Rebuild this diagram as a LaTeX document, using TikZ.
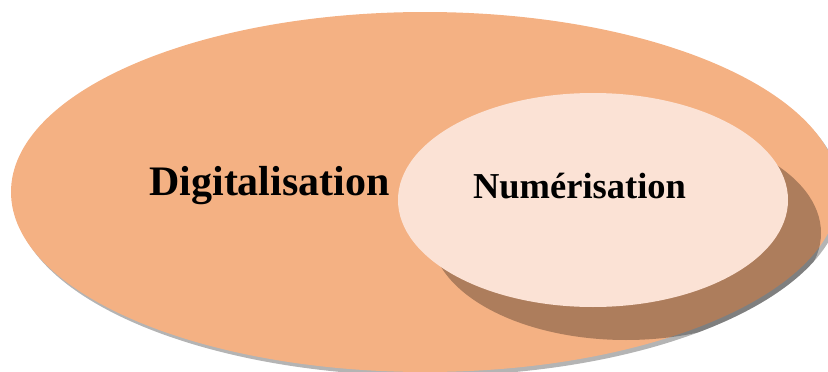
\documentclass[tikz,border=0pt]{standalone}
\usepackage{fontspec}
\setmainfont{Liberation Serif}
\definecolor{outerfill}{HTML}{F4B183}
\definecolor{innerfill}{HTML}{FBE2D5}
\definecolor{groundshadow}{HTML}{B4B4B4}
\begin{document}
\begin{tikzpicture}[x=1pt,y=-1pt,
  setlabel/.style={inner sep=0pt, anchor=base, text=black},
  biglabel/.style={setlabel, font=\fontsize{42}{42}\selectfont\bfseries},
  smalllabel/.style={setlabel, font=\fontsize{36.5}{36.5}\selectfont\bfseries},
  outerset/.style={x radius=414, y radius=180},
  innerset/.style={x radius=195, y radius=107},
]
\path[use as bounding box, clip] (0,0) rectangle (828,372);

% outer set with its soft ground shadow
\fill[groundshadow] (428,196) ellipse [outerset];
\fill[outerfill] (425,192) ellipse [outerset];

% shadow cast by the inner set, kept on the outer set and its ground shadow
\begin{scope}
  \clip (425,192) ellipse [outerset] (428,196) ellipse [outerset];
  \fill[black, opacity=0.29] (626,233) ellipse [innerset];
\end{scope}

% inner set
\fill[innerfill] (593,200) ellipse [innerset];

\node[biglabel] (digit) at (269.5,195) {Digitalisation};
\node[smalllabel] (numer) at (579.5,198) {Numérisation};
\end{tikzpicture}
\end{document}
